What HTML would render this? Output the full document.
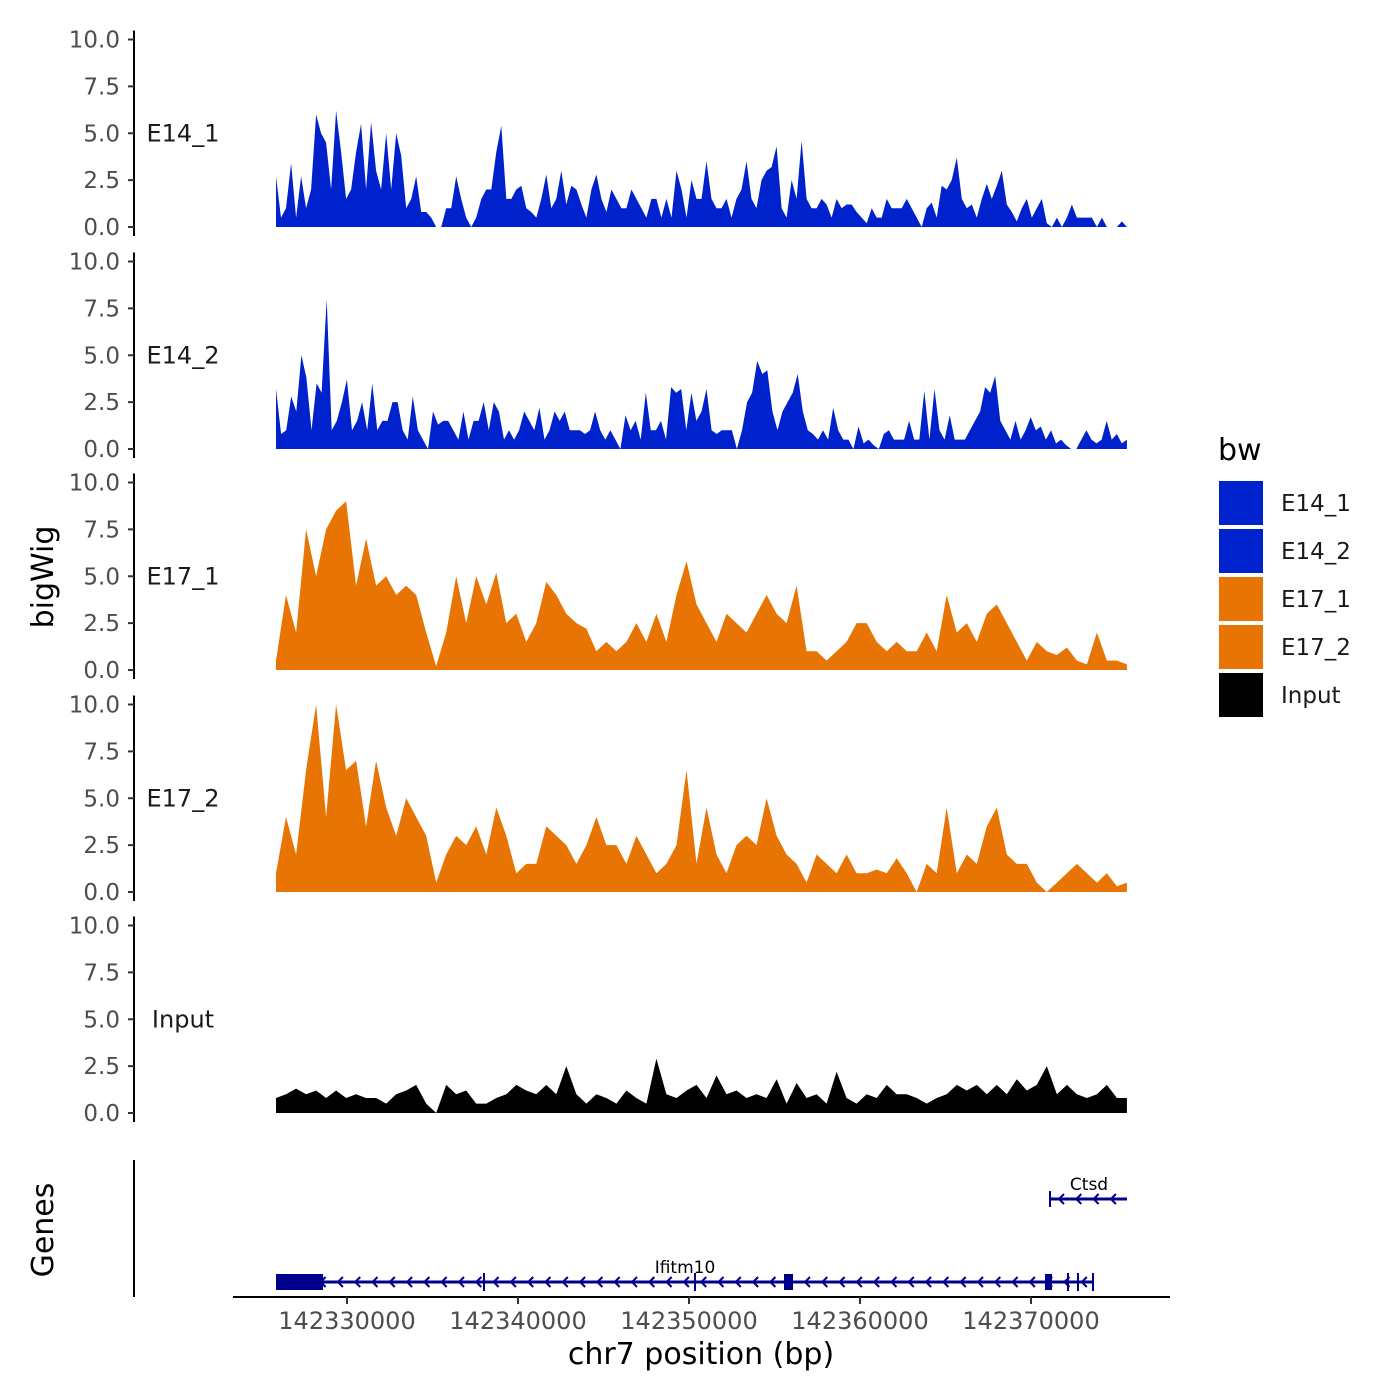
<!DOCTYPE html>
<html><head><meta charset="utf-8"><style>
body{margin:0;background:#fff}
svg{display:block;font-family:"DejaVu Sans","Liberation Sans",sans-serif}
</style></head><body>
<svg id="chart" width="1400" height="1400" viewBox="0 0 1400 1400" xmlns="http://www.w3.org/2000/svg"></svg>
<script>
const trackNames=["E14_1","E14_2","E17_1","E17_2","Input"];
const trackColors=["#0022CC","#0022CC","#E87503","#E87503","#000000"];
const yTicks=[0,2.5,5,7.5,10];
const yTickLabels=["0.0","2.5","5.0","7.5","10.0"];
const xTicks=[142330000,142340000,142350000,142360000,142370000];
const bpStart=142325850, bpEnd=142375610;
const e14_1=[2.7,0.5,1,3.4,0.5,2.7,1,2,6,5,4.5,2,6.2,4,1.5,2,4,5.5,2,5.6,3,2,5,2,5,3.8,1,1.5,2.7,0.8,0.8,0.5,0,0,1,1,2.7,1.5,0.5,0,0.5,1.5,2,2,4,5.4,1.5,1.5,2,2.2,1,0.8,0.5,1.5,2.8,1,1.5,3,1.2,2.2,2,1.2,0.5,2,2.8,1.5,0.8,2,1.5,1,1,2,1.5,1,0.5,1.5,1.5,0.5,1.5,0.5,3,2,0.5,2.5,1.5,1.5,3.5,1.5,1,1,1.5,0.5,1.5,2,3.5,1.5,1,2.5,3,3.2,4.3,1,0.5,2.5,1.5,4.6,1.5,1,1,1.5,1.2,0.5,1.5,1,1.2,1.2,0.8,0.5,0.2,1,0.5,0.5,1.5,1,1,1,1.5,1,0.5,0,1,1.3,0.5,2.2,2,2.5,3.7,1.5,1,1.2,0.5,1.5,2.3,1.5,2.2,3,1.2,0.8,0.3,1,1.5,0.5,1,1.5,0.2,0,0.5,0,0.5,1.2,0.5,0.5,0.5,0.5,0,0.5,0,0,0,0.3,0];
const e14_2=[3.2,0.8,1,2.8,2,5,3.8,1,3.5,3,8,1,1.5,2.5,3.7,1,1.5,2.5,1,3.5,1,1.5,1.5,2.5,2.5,1,0.5,2.8,1,0.5,0,2,1.3,1.5,1.5,1,0.5,2,0.5,1.5,1.5,2.5,1,2.5,2,0.5,1,0.5,1,2,1.5,1,2.2,0.5,1,2,1.5,2,1,1,1,0.8,1,2,1,0.5,1,0.5,0,1.8,1,1.5,0.5,3,1,1,1.5,0.5,3.3,3,3.2,1,3,1.5,2,3.2,1,0.8,1,1,1,0,1,2.5,3,4.7,4,4.2,2,1,2,2.5,3,4,2,1,0.8,0.5,1,0.5,2.2,1,0.5,0.5,0,1.2,0.3,0.5,0.2,0,0.8,1,0.5,0.5,0.5,1.5,0.5,0.5,3.1,0.5,3.2,1,0.5,1.8,0.5,0.5,0.5,1,1.5,2,3.3,3,3.9,1.5,1,0.5,1.5,0.5,1,1.7,1,1.2,0.5,1,0.3,0.5,0.2,0,0,0.5,1,0.5,0.3,0.5,1.5,0.5,0.8,0.3,0.5];
const e17_1=[0.5,4,2,7.5,5,7.5,8.5,9,4.5,7,4.5,5,4,4.5,4,2,0.2,2,5,2.5,5,3.5,5.2,2.5,3,1.5,2.5,4.7,4,3,2.5,2.2,1,1.5,1,1.5,2.5,1.5,3,1.5,4,5.8,3.5,2.5,1.5,3,2.5,2,3,4,3,2.5,4.5,1,1,0.5,1,1.5,2.5,2.5,1.5,1,1.5,1,1,2,1,4,2,2.5,1.5,3,3.5,2.5,1.5,0.5,1.5,1,0.8,1.2,0.5,0.3,2,0.5,0.5,0.3];
const e17_2=[1,4,2,6.5,10,4,10,6.5,7,3.5,7,4.5,3,5,4,3,0.5,2,3,2.5,3.5,2,4.5,3,1,1.5,1.5,3.5,3,2.5,1.5,2.5,4,2.5,2.5,1.5,3,2,1,1.5,2.5,6.5,1.5,4.5,2,1,2.5,3,2.5,5,3,2,1.5,0.5,2,1.5,1,2,1,1,1.2,1,1.8,1,0,1.5,1,4.5,1,2,1.5,3.5,4.5,2,1.5,1.5,0.5,0,0.5,1,1.5,1,0.5,1,0.3,0.5];
const input=[0.8,1,1.3,1,1.2,0.8,1.2,0.8,1,0.8,0.8,0.5,1,1.2,1.5,0.5,0,1.5,1,1.2,0.5,0.5,0.8,1,1.5,1.2,1,1.5,1,2.5,1,0.5,1,0.8,0.5,1.2,0.8,0.5,2.9,1,0.8,1.2,1.5,0.8,2,1,1.2,0.8,1,0.8,1.8,0.5,1.6,0.8,1,0.5,2.2,0.8,0.5,1,0.8,1.5,1,1,0.8,0.5,0.8,1,1.5,1.2,1.5,1,1.5,1,1.8,1.2,1.5,2.5,1,1.5,1,0.8,1,1.5,0.8,0.8];
const trackValues=[e14_1,e14_2,e17_1,e17_2,input];

const NS="http://www.w3.org/2000/svg";
const svg=document.getElementById('chart');
function mk(tag,attrs,parent){const e=document.createElementNS(NS,tag);for(const k in attrs)e.setAttribute(k,attrs[k]);(parent||svg).appendChild(e);return e;}
const xScale=bp=>347+(bp-142330000)*171/10000;
const baselines=[227,449,670,892,1113];
function yScale(i,v){return baselines[i]-v*18.75;}

trackNames.forEach((name,i)=>{
  const g=mk('g',{});
  
  
  const vals=trackValues[i];
  const step=(bpEnd-bpStart)/(vals.length-1);
  let d='M'+xScale(bpStart)+','+baselines[i];
  vals.forEach((v,j)=>{d+=' L'+xScale(bpStart+j*step).toFixed(1)+','+yScale(i,v).toFixed(1);});
  d+=' L'+xScale(bpEnd)+','+baselines[i]+' Z';
  const p=mk('path',{d:d,fill:trackColors[i]},g);
  
  
  const ax=mk('line',{x1:134,x2:134,y1:yScale(i,10)-9,y2:baselines[i]+9,stroke:'#000','stroke-width':2},g);
  
  
  yTicks.forEach((t,k)=>{
    const y=yScale(i,t);
    mk('line',{x1:128,x2:134,y1:y,y2:y,stroke:'#333','stroke-width':2},g);
    const tx=mk('text',{x:120,y:y+8,'text-anchor':'end','font-size':23,fill:'#4d4d4d'},g);
    tx.textContent=yTickLabels[k];
    
    
  });
  const lb=mk('text',{x:183,y:(yScale(i,10)+baselines[i])/2+8,'text-anchor':'middle','font-size':24,fill:'#1a1a1a'},g);
  lb.textContent=name;
  
  
});

const yt=mk('text',{x:0,y:0,transform:'translate(53,577) rotate(-90)','text-anchor':'middle','font-size':30});
yt.textContent='bigWig';



const gg=mk('g',{});


mk('line',{x1:134,x2:134,y1:1160,y2:1297,stroke:'#000','stroke-width':2},gg);
const gt=mk('text',{x:0,y:0,transform:'translate(53,1230) rotate(-90)','text-anchor':'middle','font-size':30},gg);
gt.textContent='Genes';


const navy='#00008B';
function gene(x1,x2,y,name,lx){
  const g=mk('g',{},gg);
  
  
  mk('line',{x1:x1,x2:x2,y1:y,y2:y,stroke:navy,'stroke-width':3},g);
  for(let x=x1+10;x<x2-4;x+=17.3){mk('path',{d:`M${x+5},${y-5} L${x},${y} L${x+5},${y+5}`,fill:'none',stroke:navy,'stroke-width':2},g);}
  const t=mk('text',{x:lx,y:y-9,'text-anchor':'middle','font-size':17},g);
  t.textContent=name;
  return g;
}
const g1=gene(276,1094,1282,'Ifitm10',685);
mk('rect',{x:276,y:1274,width:47,height:16,fill:navy},g1);
mk('rect',{x:784,y:1274,width:9,height:16,fill:navy},g1);
mk('rect',{x:1045,y:1274,width:7,height:16,fill:navy},g1);
[484,695,1068,1078,1093].forEach(x=>mk('line',{x1:x,x2:x,y1:1273,y2:1291,stroke:navy,'stroke-width':2},g1));
const g2=gene(1049,1127,1199,'Ctsd',1089);
mk('line',{x1:1050,x2:1050,y1:1191,y2:1207,stroke:navy,'stroke-width':2},g2);

const xa=mk('line',{x1:233,x2:1170,y1:1297,y2:1297,stroke:'#000','stroke-width':2});


xTicks.forEach(t=>{
  const x=xScale(t);
  mk('line',{x1:x,x2:x,y1:1297,y2:1304,stroke:'#333','stroke-width':2});
  const tx=mk('text',{x:x,y:1329,'text-anchor':'middle','font-size':24,fill:'#4d4d4d'});
  tx.textContent=String(t);
  
  
});
const xt=mk('text',{x:701,y:1364,'text-anchor':'middle','font-size':30});
xt.textContent='chr7 position (bp)';



const legendLabels=["E14_1","E14_2","E17_1","E17_2","Input"];
const lg=mk('g',{});


const lt=mk('text',{x:1218,y:460,'font-size':30},lg);
lt.textContent='bw';
legendLabels.forEach((l,i)=>{
  const e=mk('g',{},lg);
  
  
  mk('rect',{x:1219,y:481+i*48,width:44,height:44,fill:trackColors[i]},e);
  const t=mk('text',{x:1281,y:511+i*48,'font-size':23,fill:'#1a1a1a'},e);
  t.textContent=l;
});
</script>
</body></html>
